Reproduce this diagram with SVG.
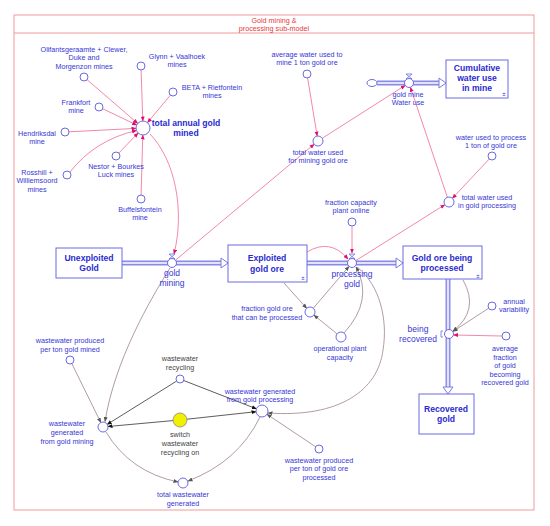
<svg xmlns="http://www.w3.org/2000/svg" width="550" height="526" viewBox="0 0 550 526">
<defs>
<style>
.t{font-family:"Liberation Sans",Arial,sans-serif;font-size:7.2px;fill:#3636d6;text-anchor:middle}
.tk{font-family:"Liberation Sans",Arial,sans-serif;font-size:7.2px;fill:#444;text-anchor:middle}
.tf{font-family:"Liberation Sans",Arial,sans-serif;font-size:8.5px;fill:#3636d6;text-anchor:middle}
.tb{font-family:"Liberation Sans",Arial,sans-serif;font-size:8.6px;font-weight:bold;fill:#2a2ad0;text-anchor:middle}
.tr{font-family:"Liberation Sans",Arial,sans-serif;font-size:7.2px;fill:#e83838;text-anchor:middle}
.pm{font-family:"Liberation Sans",Arial,sans-serif;font-size:6px;fill:#3636d6;text-anchor:middle}
.c{fill:#fff;stroke:#6a6ae6;stroke-width:1}
.box{fill:#fff;stroke:#6a6ae6;stroke-width:1}
.po{fill:none;stroke:#8a8ae6;stroke-width:5}
.pi{fill:none;stroke:#e2e2fc;stroke-width:2.2}
.ah{fill:#fff;stroke:#7a7ae0;stroke-width:1}
.lp{fill:none;stroke:#f07aa0;stroke-width:0.9;marker-end:url(#aP)}
.lg{fill:none;stroke:#a8909c;stroke-width:0.9;marker-end:url(#aG)}
.lk{fill:none;stroke:#333;stroke-width:0.8;marker-end:url(#aK)}
.vs{fill:#fff;stroke:#6a6ae6;stroke-width:0.8}
</style>
<marker id="aP" viewBox="0 0 10 10" refX="9" refY="5" markerWidth="5" markerHeight="5" markerUnits="userSpaceOnUse" orient="auto"><path d="M0,1 L10,5 L0,9 z" fill="#e0106a"/></marker>
<marker id="aG" viewBox="0 0 10 10" refX="9" refY="5" markerWidth="5" markerHeight="5" markerUnits="userSpaceOnUse" orient="auto"><path d="M0,1 L10,5 L0,9 z" fill="#555"/></marker>
<marker id="aK" viewBox="0 0 10 10" refX="9" refY="5" markerWidth="5" markerHeight="5" markerUnits="userSpaceOnUse" orient="auto"><path d="M0,1 L10,5 L0,9 z" fill="#111"/></marker>
</defs>
<rect width="550" height="526" fill="#fff"/>
<g id="frame">
<rect x="14" y="15" width="520" height="495" fill="none" stroke="#f09a9a" stroke-width="1"/>
<line x1="14" y1="33" x2="534" y2="33" stroke="#f09a9a" stroke-width="1"/>
<text class="tr" x="274" y="22.5">Gold mining &amp;</text>
<text class="tr" x="274" y="30.5">processing sub-model</text>
</g>
<g id="pipes">
<line class="po" x1="122" y1="263" x2="221" y2="263"/><line class="pi" x1="122" y1="263" x2="221" y2="263"/>
<polygon class="ah" points="221,258 228,263 221,268"/>
<line class="po" x1="307" y1="263" x2="396" y2="263"/><line class="pi" x1="307" y1="263" x2="396" y2="263"/>
<polygon class="ah" points="396,258 403,263 396,268"/>
<line class="po" x1="377" y1="83" x2="439" y2="83"/><line class="pi" x1="377" y1="83" x2="439" y2="83"/>
<polygon class="ah" points="439,78 446,83 439,88"/>
<line class="po" x1="448" y1="279" x2="448" y2="387"/><line class="pi" x1="448" y1="279" x2="448" y2="387"/>
<polygon class="ah" points="443,387 448,394 453,387"/>
</g>
<g id="connectors">
<line class="lp" x1="87" y1="79.6" x2="137.7" y2="123.4"/>
<line class="lp" x1="141.1" y1="70" x2="142.8" y2="121"/>
<line class="lp" x1="170.4" y1="95.1" x2="147.5" y2="122.6"/>
<line class="lp" x1="102.6" y1="108.7" x2="136.7" y2="125"/>
<line class="lp" x1="69" y1="131.8" x2="136" y2="128.4"/>
<path class="lp" d="M70,172 Q95,140 136.5,130.5"/>
<line class="lp" x1="118.8" y1="153.1" x2="138.1" y2="133"/>
<line class="lp" x1="141.1" y1="195" x2="142.8" y2="135"/>
<path class="lp" d="M150,134 C175,160 185,210 174,254"/>
<line class="lp" x1="307.6" y1="78" x2="317.2" y2="136"/>
<line class="lp" x1="322.2" y1="138.3" x2="405.2" y2="85.4"/>
<line class="lp" x1="175.5" y1="260.1" x2="314.2" y2="144.2"/>
<line class="lp" x1="489.3" y1="158.9" x2="452.4" y2="198.3"/>
<line class="lp" x1="447.4" y1="197.3" x2="410.4" y2="87.3"/>
<line class="lp" x1="355.8" y1="260.6" x2="444.8" y2="204.7"/>
<line class="lp" x1="352" y1="226" x2="352" y2="253"/>
<path class="lp" d="M307,252 Q330,238 348,259"/>
<line class="lg" x1="284" y1="283" x2="306.7" y2="308.3"/>
<line class="lg" x1="313.3" y1="308.2" x2="349" y2="266.4"/>
<line class="lg" x1="337.1" y1="333.9" x2="313.9" y2="315.1"/>
<path class="lg" d="M344,333 Q374,300 356,267"/>
<path class="lg" d="M357,267 C380,285 388,320 383,350 C378,390 340,418 268,413"/>
<path class="lg" d="M463,280 Q480,310 453,331"/>
<line class="lg" x1="488.6" y1="308.2" x2="453" y2="331.5"/>
<line class="lp" x1="502" y1="336" x2="453.5" y2="335"/>
<line class="lg" x1="71.8" y1="363.6" x2="100.8" y2="422.5"/>
<path class="lg" d="M170,268 C150,300 115,360 105,421.5"/>
<line class="lk" x1="176.6" y1="381.1" x2="107.2" y2="424.4"/>
<line class="lk" x1="183.7" y1="380.5" x2="256.4" y2="408.8"/>
<line class="lk" x1="173" y1="420.6" x2="108" y2="426.5"/>
<line class="lk" x1="187" y1="419.2" x2="256" y2="411.7"/>
<path class="lg" d="M106,432 Q130,472 178,482"/>
<path class="lg" d="M260,417 Q238,462 188,481"/>
<line class="lg" x1="315.7" y1="446.8" x2="267" y2="414.3"/>
</g>
<g id="olifants"><circle class="c" cx="84" cy="77" r="4"/><text class="t" x="84" y="51.6">Olifantsgeraamte + Clewer,</text><text class="t" x="84" y="60">Duke and</text><text class="t" x="84" y="68.5">Morgenzon mines</text></g>
<g id="glynn"><circle class="c" cx="141" cy="66" r="4"/><text class="t" x="177" y="58.6">Glynn + Vaalhoek</text><text class="t" x="177" y="67">mines</text></g>
<g id="beta"><circle class="c" cx="173" cy="92" r="4"/><text class="t" x="212" y="89.6">BETA + Rietfontein</text><text class="t" x="212" y="98">mines</text></g>
<g id="frankfort"><circle class="c" cx="99" cy="107" r="4"/><text class="t" x="76" y="104.6">Frankfort</text><text class="t" x="76" y="113">mine</text></g>
<g id="hendriksdal"><circle class="c" cx="65" cy="132" r="4"/><text class="t" x="37" y="135.6">Hendriksdal</text><text class="t" x="37" y="144">mine</text></g>
<g id="rosshill"><circle class="c" cx="67" cy="175" r="4"/><text class="t" x="37" y="174.6">Rosshill +</text><text class="t" x="37" y="183.4">Williemsoord</text><text class="t" x="37" y="192">mines</text></g>
<g id="nestor"><circle class="c" cx="116" cy="156" r="4"/><text class="t" x="116" y="168.6">Nestor + Bourkes</text><text class="t" x="116" y="177">Luck mines</text></g>
<g id="buffelsfontein"><circle class="c" cx="141" cy="199" r="4"/><text class="t" x="140" y="211.6">Buffelsfontein</text><text class="t" x="140" y="220">mine</text></g>
<g id="total_annual_gold_mined"><circle class="c" cx="143" cy="128" r="7"/><text class="tb" x="186" y="126">total annual gold</text><text class="tb" x="186" y="136">mined</text></g>
<g id="avg_water_mine"><circle class="c" cx="307" cy="74" r="4"/><text class="t" x="307" y="56.6">average water used to</text><text class="t" x="307" y="65">mine 1 ton gold ore</text></g>
<g id="total_water_mining"><circle class="c" cx="318" cy="141" r="5"/><text class="t" x="318" y="154.6">total water used</text><text class="t" x="318" y="162.6">for mining gold ore</text></g>
<g id="cloud"><ellipse cx="372" cy="83" rx="5" ry="3.5" fill="#fff" stroke="#6a6ae6" stroke-width="1"/></g>
<g id="gold_mine_water_use"><path class="vs" d="M406,74 h6 l-6,5 h6 z"/><circle class="c" cx="409" cy="83" r="4.5"/><text class="t" x="408" y="96.6">gold mine</text><text class="t" x="408" y="104.6">Water use</text></g>
<g id="cumulative_water"><rect class="box" x="446" y="60" width="62" height="38"/><text class="tb" x="477" y="71">Cumulative</text><text class="tb" x="477" y="81">water use</text><text class="tb" x="477" y="91">in mine</text><text class="pm" x="504" y="96">±</text></g>
<g id="water_process_ton"><circle class="c" cx="492" cy="156" r="4"/><text class="t" x="491" y="139.6">water used to process</text><text class="t" x="491" y="148">1 ton of gold ore</text></g>
<g id="total_water_processing"><circle class="c" cx="449" cy="202" r="5"/><text class="t" x="487" y="199.6">total water used</text><text class="t" x="487" y="208">in gold processing</text></g>
<g id="fraction_capacity"><circle class="c" cx="352" cy="222" r="4"/><text class="t" x="351" y="204.6">fraction capacity</text><text class="t" x="351" y="213">plant online</text></g>
<g id="unexploited_gold"><rect class="box" x="56" y="248" width="66" height="30"/><text class="tb" x="89" y="261">Unexploited</text><text class="tb" x="89" y="271">Gold</text></g>
<g id="gold_mining"><path class="vs" d="M169,254 h6 l-6,5 h6 z"/><circle class="c" cx="172" cy="263" r="4.5"/><text class="tf" x="172" y="276">gold</text><text class="tf" x="172" y="286">mining</text></g>
<g id="exploited_gold_ore"><rect class="box" x="228" y="245" width="79" height="37"/><text class="tb" x="267" y="261">Exploited</text><text class="tb" x="267" y="272">gold ore</text><text class="pm" x="303" y="280">±</text></g>
<g id="processing_gold"><path class="vs" d="M349,254 h6 l-6,5 h6 z"/><circle class="c" cx="352" cy="263" r="4.5"/><text class="tf" x="352" y="277">processing</text><text class="tf" x="352" y="287">gold</text></g>
<g id="gold_ore_processed"><rect class="box" x="403" y="246" width="79" height="33"/><text class="tb" x="442" y="261">Gold ore being</text><text class="tb" x="442" y="271">processed</text><text class="pm" x="478" y="278">±</text></g>
<g id="fraction_gold_ore"><circle class="c" cx="310" cy="312" r="5"/><text class="t" x="267" y="310.6">fraction gold ore</text><text class="t" x="267" y="319.6">that can be processed</text></g>
<g id="operational_plant"><circle class="c" cx="341" cy="337" r="5"/><text class="t" x="340" y="350.6">operational plant</text><text class="t" x="340" y="359.6">capacity</text></g>
<g id="being_recovered"><path d="M443,331 h-2 v6 h2" fill="none" stroke="#6a6ae6" stroke-width="0.8"/><circle class="c" cx="449" cy="334" r="4.5"/><text class="tf" x="418" y="332">being</text><text class="tf" x="418" y="342">recovered</text></g>
<g id="annual_variability"><circle class="c" cx="492" cy="306" r="4"/><text class="t" x="514" y="303.6">annual</text><text class="t" x="514" y="311.6">variability</text></g>
<g id="avg_fraction"><circle class="c" cx="506" cy="336" r="4"/><text class="t" x="505" y="350.6">average</text><text class="t" x="505" y="359.6">fraction</text><text class="t" x="505" y="367.6">of gold</text><text class="t" x="505" y="376.6">becoming</text><text class="t" x="505" y="384.6">recovered gold</text></g>
<g id="recovered_gold"><rect class="box" x="419" y="394" width="55" height="40"/><text class="tb" x="446" y="412">Recovered</text><text class="tb" x="446" y="422">gold</text></g>
<g id="ww_per_ton_mined"><circle class="c" cx="70" cy="360" r="4"/><text class="t" x="70" y="342.6">wastewater produced</text><text class="t" x="70" y="351.6">per ton gold mined</text></g>
<g id="ww_recycling"><circle class="c" cx="180" cy="379" r="4"/><text class="tk" x="180" y="360.6">wastewater</text><text class="tk" x="180" y="369.6">recycling</text></g>
<g id="switch"><circle cx="180" cy="420" r="7" fill="#f0f000" stroke="#888" stroke-width="0.8"/><text class="tk" x="180" y="436.6">switch</text><text class="tk" x="180" y="445.6">wastewater</text><text class="tk" x="180" y="454.6">recycling on</text></g>
<g id="ww_gen_mining"><circle class="c" cx="103" cy="427" r="5"/><text class="t" x="67" y="425.6">wastewater</text><text class="t" x="67" y="434.6">generated</text><text class="t" x="67" y="443.6">from gold mining</text></g>
<g id="ww_gen_processing"><circle class="c" cx="262" cy="411" r="6"/><text class="t" x="260" y="393.6">wastewater generated</text><text class="t" x="260" y="401.6">from gold processing</text></g>
<g id="total_wastewater"><circle class="c" cx="183" cy="483" r="5"/><text class="t" x="183" y="496.6">total wastewater</text><text class="t" x="183" y="505.6">generated</text></g>
<g id="ww_per_ton_processed"><circle class="c" cx="319" cy="449" r="4"/><text class="t" x="319" y="462.6">wastewater produced</text><text class="t" x="319" y="470.6">per ton of gold ore</text><text class="t" x="319" y="479.6">processed</text></g>
</svg>
